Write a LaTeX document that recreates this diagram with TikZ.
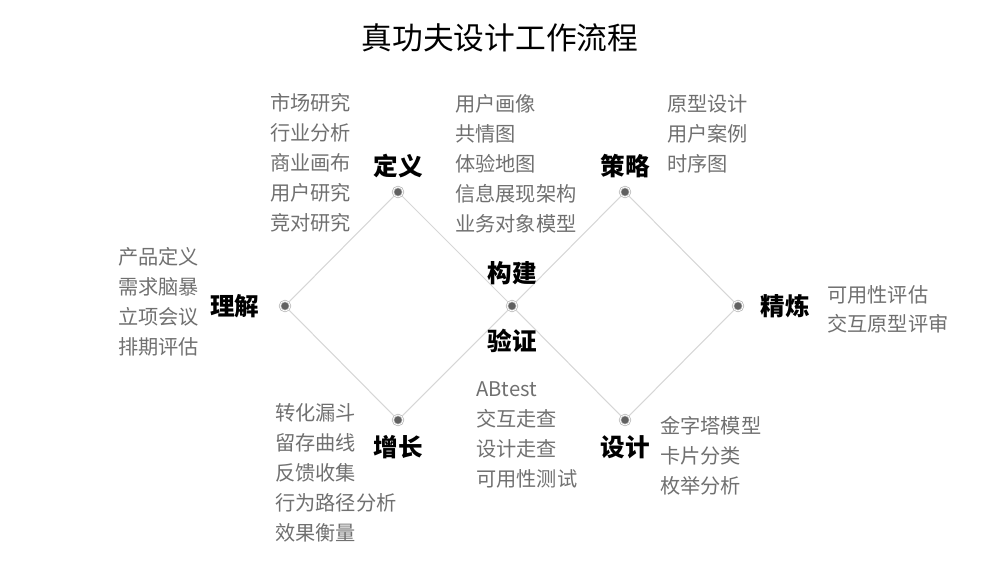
\documentclass[tikz,border=0pt]{standalone}
\usepackage{fontspec}
\setmainfont{Noto Sans CJK SC}
\usetikzlibrary{positioning}
\definecolor{linegray}{rgb}{0.84, 0.84, 0.84}
\definecolor{dotgray}{rgb}{0.38, 0.38, 0.38}
\definecolor{ringgray}{rgb}{0.7, 0.7, 0.7}
\definecolor{textgray}{rgb}{0.44, 0.44, 0.44}

\begin{document}
\begin{tikzpicture}[x=0.02cm, y=-0.02cm,
		dot/.style={circle, fill=dotgray, draw=ringgray, line width=0.4pt, double=white, double distance=0.5pt, inner sep=0pt, minimum size=0.2cm},
		phase/.style={font=\fontsize{14}{16}\selectfont\bfseries, inner sep=0pt},
		item/.style={font=\fontsize{11.5}{14}\selectfont, text=textgray, anchor=west, inner sep=0pt},
		link/.style={linegray, line width=0.6pt}]
		\useasboundingbox (0,0) rectangle (1000,572);
		\node [font=\fontsize{17.5}{20}\selectfont, inner sep=0pt] (title) at (500,38) {真功夫设计工作流程};
		% dots
		\node [dot] (lijie) at (285,306) {};
		\node [dot] (dingyi) at (398,192) {};
		\node [dot] (goujian) at (512,306) {};
		\node [dot] (celue) at (625,192) {};
		\node [dot] (jinglian) at (738,306) {};
		\node [dot] (zengzhang) at (398,420) {};
		\node [dot] (sheji) at (625,420) {};
		\draw [link] (lijie)--(dingyi)--(goujian)--(celue)--(jinglian)--(sheji)--(goujian)--(zengzhang)--(lijie);
		% phase names
		\node [phase, above=0.17cm of dingyi] (dingyiL) {定义};
		\node [phase, above=0.17cm of celue] (celueL) {策略};
		\node [phase, left=0.4cm of lijie] (lijieL) {理解};
		\node [phase, right=0.34cm of jinglian] (jinglianL) {精炼};
		\node [phase, above=0.31cm of goujian] (goujianL) {构建};
		\node [phase, below=0.35cm of goujian] (yanzhengL) {验证};
		\node [phase, below=0.19cm of zengzhang] (zengzhangL) {增长};
		\node [phase, below=0.19cm of sheji] (shejiL) {设计};
		% task lists
		\foreach \t [count=\i] in {市场研究,行业分析,商业画布,用户研究,竞对研究}
			\node [item] (dy\i) at (270,103+30*\i-30) {\t};
		\foreach \t [count=\i] in {用户画像,共情图,体验地图,信息展现架构,业务对象模型}
			\node [item] (gj\i) at (455,104+30*\i-30) {\t};
		\foreach \t [count=\i] in {原型设计,用户案例,时序图}
			\node [item] (cl\i) at (667,104+30*\i-30) {\t};
		\foreach \t [count=\i] in {产品定义,需求脑暴,立项会议,排期评估}
			\node [item] (lj\i) at (118,257+30*\i-30) {\t};
		\foreach \t [count=\i] in {可用性评估,交互原型评审}
			\node [item] (jl\i) at (827,295+29*\i-29) {\t};
		\foreach \t [count=\i] in {转化漏斗,留存曲线,反馈收集,行为路径分析,效果衡量}
			\node [item] (zz\i) at (275,413+30*\i-30) {\t};
		\foreach \t [count=\i] in {ABtest,交互走查,设计走查,可用性测试}
			\node [item] (yz\i) at (476,389+30*\i-30) {\t};
		\foreach \t [count=\i] in {金字塔模型,卡片分类,枚举分析}
			\node [item] (sj\i) at (660,426+30*\i-30) {\t};
	\end{tikzpicture}
\end{document}
